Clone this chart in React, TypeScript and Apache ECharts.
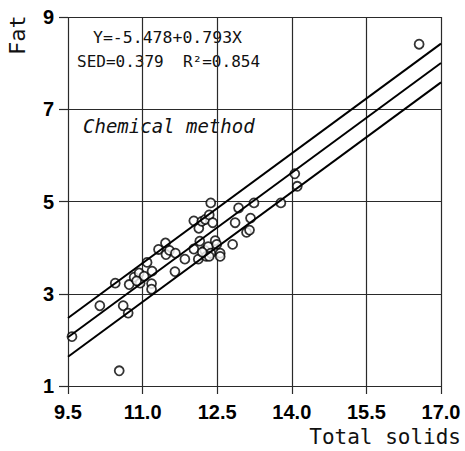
import React, { useEffect, useRef } from "react";
import * as echarts from "echarts";

// Total solids (x) vs fat (y) observations
const totalSolids = [
  9.58, 10.14, 10.45, 10.61, 10.71, 10.53, 10.73, 10.83, 10.93, 10.95, 11.03, 11.09, 11.19, 11.18,
  11.18, 10.88, 11.32, 11.46, 11.47, 11.54, 11.66, 11.65, 11.85, 12.03, 12.03, 12.13, 12.19, 12.26,
  12.34, 12.37, 12.41, 12.15, 12.12, 12.25, 12.28, 12.32, 12.37, 12.46, 12.49, 12.56, 12.56, 12.34,
  12.2, 12.81, 12.86, 12.93, 13.09, 13.15, 13.17, 13.24, 13.78, 14.06, 14.11, 16.56,
];
const fat = [
  2.07, 2.74, 3.23, 2.74, 2.58, 1.33, 3.2, 3.36, 3.45, 3.23, 3.38, 3.68, 3.49, 3.22,
  3.1, 3.28, 3.96, 4.1, 3.85, 3.94, 3.88, 3.48, 3.75, 3.97, 4.58, 4.42, 4.57, 4.61,
  4.71, 4.97, 4.54, 4.14, 3.75, 3.94, 3.81, 4.02, 3.88, 4.15, 4.07, 3.88, 3.81, 3.81,
  3.9, 4.07, 4.54, 4.86, 4.33, 4.38, 4.64, 4.97, 4.97, 5.6, 5.33, 8.41,
];

// Regression Y = a + bX and band half-width
const intercept = -5.478;
const slope = 0.793;
const bandOffset = 0.42;
const lineXs = [9.5, 17.0];

const xTicks = { min: 9.5, max: 17.0, step: 1.5 };
const yTicks = { min: 1, max: 9, step: 2 };

const equationText = "Y=-5.478+0.793X";
const statsText = "SED=0.379  R\u00B2=0.854";
const methodText = "Chemical method";
const xTitle = "Total solids";
const yTitle = "Fat";

const linePoints = (offset: number) => lineXs.map((x) => [x, intercept + slope * x + offset]);

export default function App() {
  const ref = useRef<HTMLDivElement>(null);

  useEffect(() => {
    document.body.style.margin = "0";
    if (!ref.current) return;
    const chart = echarts.init(ref.current, undefined, { renderer: "svg" });
    const gridColor = "#2a2a2a";
    const labelFont = { color: "#000", fontFamily: "Liberation Sans", fontWeight: "bold" as const, fontSize: 20 };
    const lineStyle = { color: "#000", width: 2 };

    chart.setOption({
      animation: false,
      backgroundColor: "#fff",
      grid: { left: 68, right: 24, top: 17, bottom: 65 },
      xAxis: {
        type: "value",
        min: xTicks.min,
        max: xTicks.max,
        interval: xTicks.step,
        axisLine: { show: false },
        axisTick: { show: true, length: 8, lineStyle: { color: gridColor, width: 1.2 } },
        splitLine: { show: true, lineStyle: { color: gridColor, width: 1.2 } },
        axisLabel: { ...labelFont, margin: 16, formatter: (v: number) => v.toFixed(1) },
      },
      yAxis: {
        type: "value",
        min: yTicks.min,
        max: yTicks.max,
        interval: yTicks.step,
        axisLine: { show: false },
        axisTick: { show: true, length: 9, lineStyle: { color: gridColor, width: 1.2 } },
        splitLine: { show: true, lineStyle: { color: gridColor, width: 1.2 } },
        axisLabel: { ...labelFont, margin: 14 },
      },
      series: [
        {
          type: "line",
          data: linePoints(bandOffset),
          symbol: "none",
          lineStyle,
          silent: true,
        },
        {
          type: "line",
          data: linePoints(0),
          symbol: "none",
          lineStyle,
          silent: true,
        },
        {
          type: "line",
          data: linePoints(-bandOffset),
          symbol: "none",
          lineStyle,
          silent: true,
        },
        {
          type: "scatter",
          data: totalSolids.map((x, i) => [x, fat[i]]),
          symbol: "circle",
          symbolSize: 9,
          itemStyle: { color: "#fff", borderColor: "#000", borderWidth: 1.8 },
        },
      ],
      graphic: [
        {
          type: "text",
          left: 93,
          top: 29,
          style: { text: equationText, font: "16.5px 'DejaVu Sans Mono'", fill: "#111" },
        },
        {
          type: "text",
          left: 77,
          top: 53,
          style: { text: statsText, font: "16px 'DejaVu Sans Mono'", fill: "#111" },
        },
        {
          type: "text",
          left: 83,
          top: 116,
          style: { text: methodText, font: "italic 19px 'DejaVu Sans Mono'", fill: "#111" },
        },
        {
          type: "text",
          right: 4,
          top: 426,
          style: { text: xTitle, font: "21px 'DejaVu Sans Mono'", fill: "#111" },
        },
        {
          type: "text",
          x: 17,
          y: 35,
          rotation: Math.PI / 2,
          style: {
            text: yTitle,
            font: "22px 'DejaVu Sans Mono'",
            fill: "#111",
            align: "center",
            verticalAlign: "middle",
          },
        },
      ],
    });
    return () => chart.dispose();
  }, []);

  return <div ref={ref} style={{ width: 465, height: 451 }} />;
}
